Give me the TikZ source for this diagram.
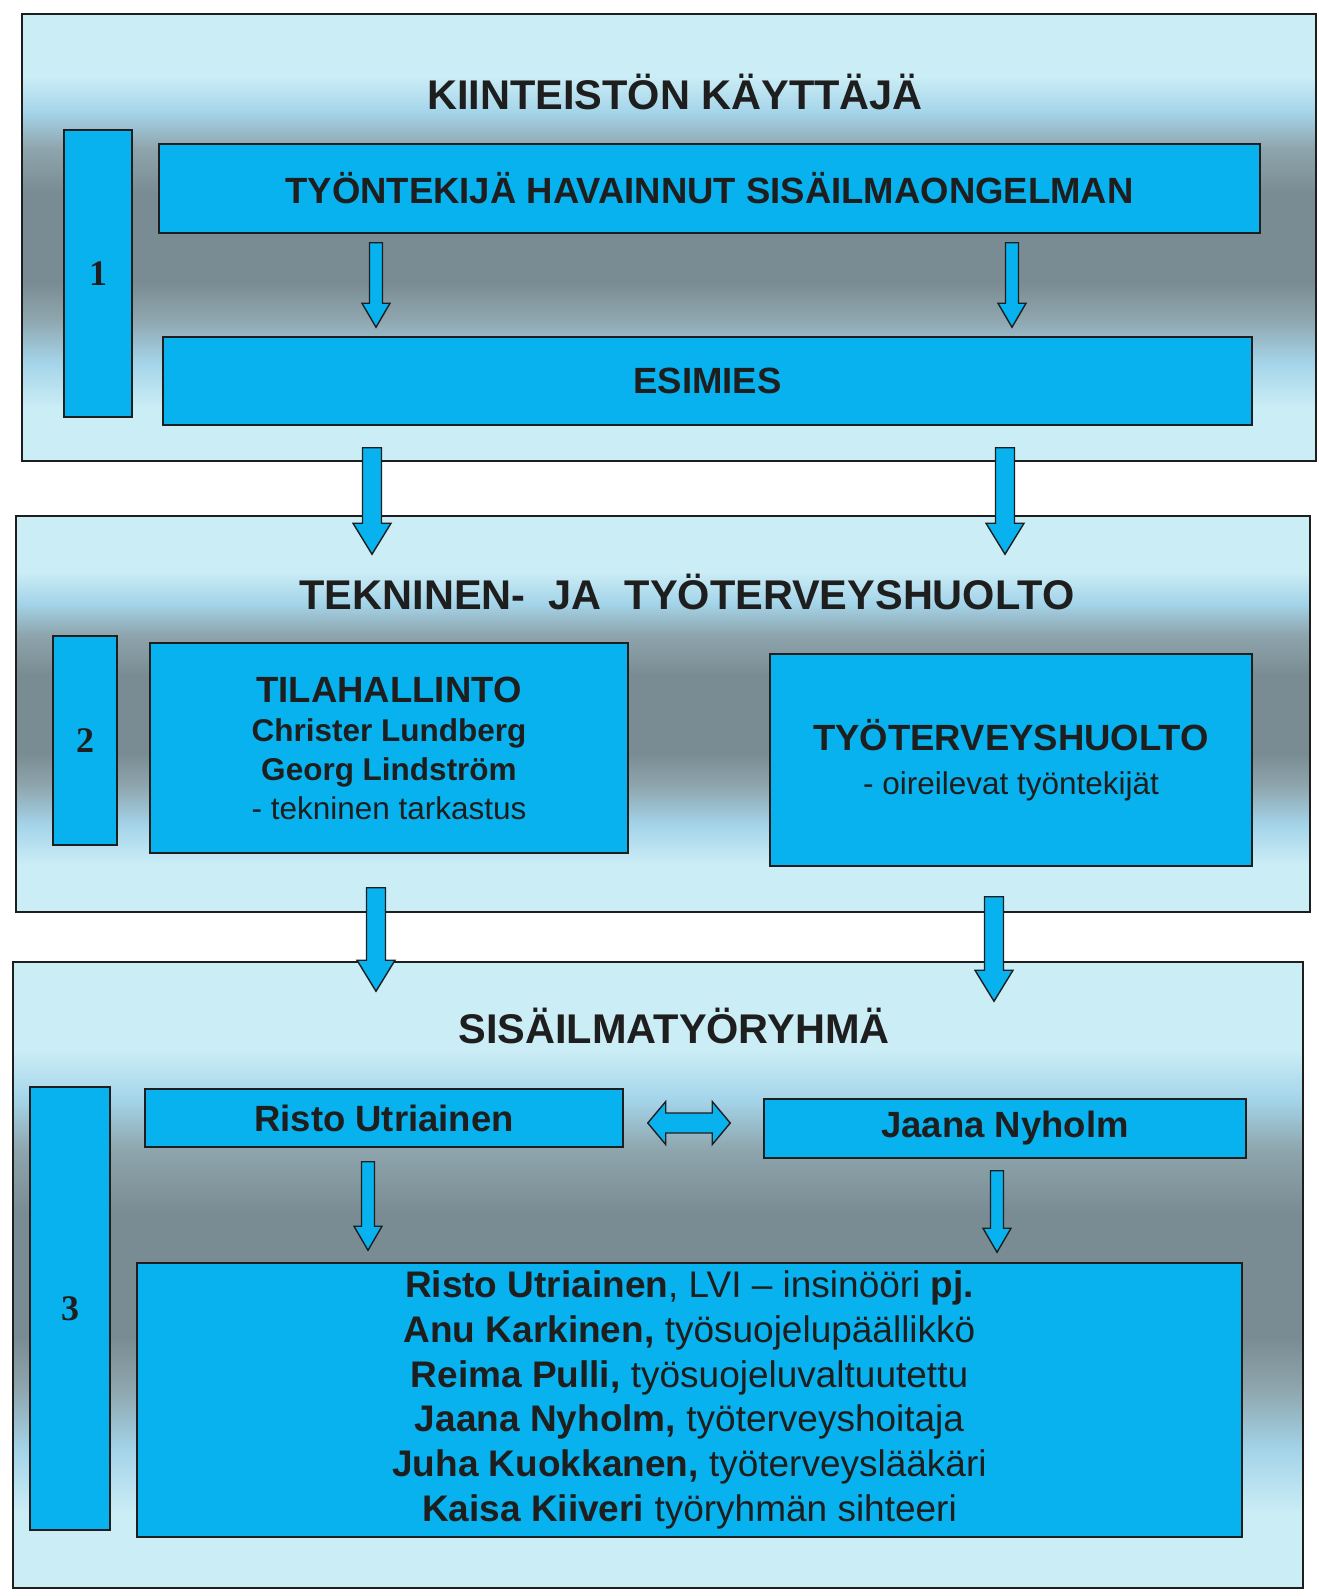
\documentclass[tikz,border=0pt]{standalone}
\usepackage{fontspec}
\setmainfont{Liberation Sans}
\newfontfamily\numfont{Liberation Serif}
\usetikzlibrary{calc}
\definecolor{ink}{HTML}{1E1E1E}
\definecolor{boxc}{HTML}{08B2EE}
\definecolor{pnllight}{HTML}{CBEDF6}
\definecolor{pnlblue}{HTML}{A4D4E9}
\definecolor{pnlmid}{HTML}{8EA5AD}
\definecolor{pnldark}{HTML}{7A8C93}
\pgfdeclareverticalshading{panelshade}{100bp}{color(0bp)=(pnllight); color(31bp)=(pnllight);
  color(36bp)=(pnlblue); color(41bp)=(pnlmid); color(45bp)=(pnldark); color(55bp)=(pnldark);
  color(60bp)=(pnlmid); color(64bp)=(pnlblue); color(68bp)=(pnllight); color(100bp)=(pnllight)}

\begin{document}
\begin{tikzpicture}[
  x=1pt,y=-1pt,
  panel/.style={draw=ink,line width=1.5pt,shading=panelshade,shade,inner sep=0pt},
  box/.style={draw=ink,fill=boxc,line width=1.5pt,inner sep=0pt,align=center,text=ink},
  numbar/.style={box,font=\numfont\fontsize{36}{40}\selectfont\bfseries},
  title/.style={font=\fontsize{41.5}{48}\selectfont\bfseries,text=ink},
  head/.style={font=\fontsize{36.5}{44}\selectfont\bfseries},
  sub/.style={font=\fontsize{31.5}{39}\selectfont},
  arrowdims/.code args={#1/#2/#3}{\def\shw{#1}\def\hdw{#2}\def\hdl{#3}},
  downarrow/.style={draw=ink,fill=boxc,line width=1.4pt,line join=miter,
    to path={let \p1=(\tikztostart), \p2=(\tikztotarget) in
      (\x1-\shw/2,\y1) -- (\x1+\shw/2,\y1) -- (\x1+\shw/2,\y2+\hdl) -- (\x1+\hdw/2,\y2+\hdl)
      -- (\x1,\y2) -- (\x1-\hdw/2,\y2+\hdl) -- (\x1-\shw/2,\y2+\hdl) -- cycle}},
  smallarrow/.style={arrowdims=13pt/28pt/24pt,downarrow},
  bigarrow/.style={arrowdims=19pt/38pt/31pt,downarrow},
  twoway/.style={draw=ink,fill=boxc,line width=1.4pt,line join=miter,
    to path={let \p1=(\tikztostart), \p2=(\tikztotarget) in
      (\x1,\y1) -- (\x1+18pt,\y1+21.5pt) -- (\x1+18pt,\y1+10pt) -- (\x2-18pt,\y1+10pt)
      -- (\x2-18pt,\y1+21.5pt) -- (\x2,\y1) -- (\x2-18pt,\y1-21.5pt) -- (\x2-18pt,\y1-10pt)
      -- (\x1+18pt,\y1-10pt) -- (\x1+18pt,\y1-21.5pt) -- cycle}},
]
\useasboundingbox (0,0) rectangle (1319,1596);

%------------------------------------------------------------------ panels ---
\node[panel,minimum width=1294pt,minimum height=447pt] (p1) at (669,237.5) {};
\node[panel,minimum width=1294pt,minimum height=396pt] (p2) at (663,714) {};
\node[panel,minimum width=1290pt,minimum height=626pt] (p3) at (658,1275) {};

%------------------------------------------------------------- level 1 ---
\node[title] (t1) at (675,92) {KIINTEISTÖN KÄYTTÄJÄ};
\node[numbar,minimum width=68pt,minimum height=287pt] (n1) at (98,273.5) {1};
\node[box,head,minimum width=1101pt,minimum height=89pt] (tyontekija) at (709.5,188.5)
  {TYÖNTEKIJÄ HAVAINNUT SISÄILMAONGELMAN};
\node[box,head,minimum width=1089pt,minimum height=88pt] (esimies) at (707.5,381) {ESIMIES};

\foreach \ax in {376,1012}
  \draw[smallarrow] ($(tyontekija.south -| \ax,0)+(0,9)$) to ($(esimies.north -| \ax,0)+(0,-9)$);

%------------------------------------------------------------- level 2 ---
\node[title] (t2) at (687,592) {TEKNINEN-\ \ JA\ \ TYÖTERVEYSHUOLTO};
\node[numbar,minimum width=64pt,minimum height=209pt] (n2) at (85,740.5) {2};
\node[box,sub,minimum width=478pt,minimum height=210pt] (tilahallinto) at (389,748)
  {{\fontsize{36.5}{39}\selectfont\bfseries TILAHALLINTO}\\
   \textbf{Christer Lundberg}\\
   \textbf{Georg Lindström}\\
   - tekninen tarkastus};
\node[box,sub,minimum width=482pt,minimum height=212pt] (tth) at (1011,760)
  {{\fontsize{36.5}{39}\selectfont\bfseries TYÖTERVEYSHUOLTO}\\[5pt]
   - oireilevat työntekijät};

\foreach \ax in {372,1005}
  \draw[bigarrow] ($(esimies.south -| \ax,0)+(0,22)$) to ($(p2.north -| \ax,0)+(0,39)$);

%------------------------------------------------------------- level 3 ---
\node[title] (t3) at (674,1026) {SISÄILMATYÖRYHMÄ};
\node[numbar,minimum width=80pt,minimum height=443pt] (n3) at (70,1308.5) {3};
\node[box,head,minimum width=478pt,minimum height=58pt] (risto) at (384,1118) {Risto Utriainen};
\node[box,head,minimum width=482pt,minimum height=59pt] (jaana) at (1005,1128.5) {Jaana Nyholm};
\node[box,font=\fontsize{37}{44.7}\selectfont,minimum width=1105pt,minimum height=274pt]
  (jasenet) at (689.5,1400)
  {\textbf{Risto Utriainen}, LVI – insinööri \textbf{pj.}\\
   \textbf{Anu Karkinen,} työsuojelupäällikkö\\
   \textbf{Reima Pulli,} työsuojeluvaltuutettu\\
   \textbf{Jaana Nyholm,} työterveyshoitaja\\
   \textbf{Juha Kuokkanen,} työterveyslääkäri\\
   \textbf{Kaisa Kiiveri} työryhmän sihteeri};

\draw[bigarrow] ($(tilahallinto.south -| 376,0)+(0,34)$) to ($(p3.north -| 376,0)+(0,30)$);
\draw[bigarrow] ($(tth.south -| 994,0)+(0,30)$) to ($(p3.north -| 994,0)+(0,40)$);

\draw[twoway] ($(risto.east)+(24,5)$) to ($(jaana.west)+(-33,0)$);
\draw[smallarrow] ($(risto.south -| 368,0)+(0,14)$) to ($(jasenet.north -| 368,0)+(0,-12)$);
\draw[smallarrow] ($(jaana.south -| 997,0)+(0,12)$) to ($(jasenet.north -| 997,0)+(0,-10)$);

\end{tikzpicture}
\end{document}
